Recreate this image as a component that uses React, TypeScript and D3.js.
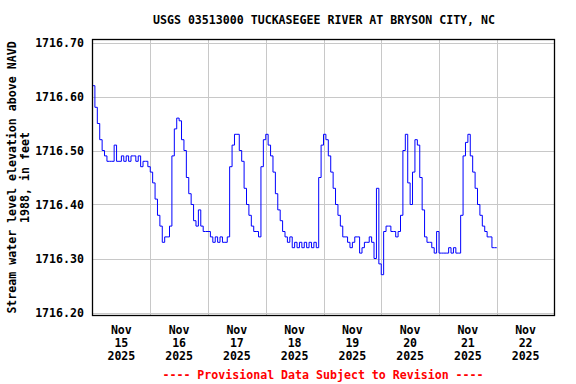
import React from "react";
import * as d3 from "d3";

const title = "USGS 03513000 TUCKASEGEE RIVER AT BRYSON CITY, NC";
const yAxisTitle = ["Stream water level elevation above NAVD", "1988, in feet"];
const footer = "---- Provisional Data Subject to Revision ----";
const startTime = new Date(2025, 10, 15, 0, 0);
const endTime = new Date(2025, 10, 23, 0, 0);
const yTicks = [1716.2, 1716.3, 1716.4, 1716.5, 1716.6, 1716.7];
const dayLabels = ["15", "16", "17", "18", "19", "20", "21", "22"];
const monthLabel = "Nov";
const yearLabel = "2025";

// Hourly gage height readings starting Nov 15 2025 00:00
const elevation = [
  1716.62, 1716.58, 1716.55, 1716.52, 1716.50, 1716.49, 1716.48, 1716.48, 1716.48, 1716.51,
  1716.48, 1716.48, 1716.49, 1716.48, 1716.49, 1716.48, 1716.49, 1716.49, 1716.48, 1716.49,
  1716.47, 1716.48, 1716.48, 1716.47, 1716.46, 1716.44, 1716.41, 1716.38, 1716.36, 1716.33,
  1716.34, 1716.34, 1716.36, 1716.49, 1716.54, 1716.56, 1716.555, 1716.52, 1716.50, 1716.45,
  1716.42, 1716.40, 1716.37, 1716.36, 1716.39, 1716.36, 1716.35, 1716.35, 1716.35, 1716.34,
  1716.33, 1716.34, 1716.33, 1716.34, 1716.33, 1716.33, 1716.34, 1716.47, 1716.51, 1716.53,
  1716.53, 1716.50, 1716.48, 1716.43, 1716.40, 1716.38, 1716.36, 1716.35, 1716.35, 1716.34,
  1716.47, 1716.52, 1716.53, 1716.51, 1716.49, 1716.46, 1716.42, 1716.39, 1716.37, 1716.35,
  1716.34, 1716.33, 1716.34, 1716.32, 1716.33, 1716.32, 1716.33, 1716.32, 1716.33, 1716.32,
  1716.33, 1716.32, 1716.33, 1716.32, 1716.45, 1716.51, 1716.53, 1716.52, 1716.49, 1716.46,
  1716.43, 1716.40, 1716.38, 1716.36, 1716.34, 1716.34, 1716.33, 1716.32, 1716.33, 1716.34,
  1716.34, 1716.31, 1716.32, 1716.33, 1716.33, 1716.34, 1716.33, 1716.30, 1716.43, 1716.29,
  1716.27, 1716.35, 1716.36, 1716.36, 1716.35, 1716.35, 1716.34, 1716.35, 1716.38, 1716.50,
  1716.53, 1716.44, 1716.40, 1716.46, 1716.52, 1716.51, 1716.45, 1716.39, 1716.34, 1716.33,
  1716.33, 1716.32, 1716.31, 1716.35, 1716.31, 1716.31, 1716.31, 1716.31, 1716.32, 1716.31,
  1716.32, 1716.31, 1716.31, 1716.38, 1716.49, 1716.515, 1716.53, 1716.49, 1716.46, 1716.43,
  1716.40, 1716.38, 1716.36, 1716.35, 1716.34, 1716.34, 1716.32, 1716.32, 1716.32,
];

const W = 576;
const H = 384;
const FONT = "'DejaVu Sans Mono', monospace";

export default function App() {
  const left = 92.5;
  const right = 554.5;
  const top = 39.5;
  const bottom = 315.5;

  const x = d3.scaleTime().domain([startTime, endTime]).range([left, right]);
  const y = d3.scaleLinear().domain([1716.2, 1716.7]).range([312.5, 42.5]);

  const points = elevation.map((v, i) => ({
    t: d3.timeHour.offset(startTime, i),
    v,
  }));
  const line = d3
    .line<{ t: Date; v: number }>()
    .x((d) => x(d.t))
    .y((d) => y(d.v))
    .curve(d3.curveStepAfter);

  const days = d3.timeDay.range(startTime, endTime);

  return (
    <svg
      width={W}
      height={H}
      style={{ position: "absolute", left: 0, top: 0, background: "#fff" }}
      fontFamily={FONT}
      fontWeight="bold"
      fontSize={11.6}
    >
      <rect x={0} y={0} width={W} height={H} fill="#fff" />
      {/* grid */}
      {yTicks.map((t) => (
        <line key={"gy" + t} x1={left} x2={right} y1={Math.round(y(t)) + 0.5} y2={Math.round(y(t)) + 0.5} stroke="#c8c8c8" strokeWidth={1} />
      ))}
      {days.slice(1).map((d, i) => (
        <line key={"gx" + i} x1={Math.round(x(d)) + 0.5} x2={Math.round(x(d)) + 0.5} y1={top} y2={bottom} stroke="#c8c8c8" strokeWidth={1} />
      ))}
      {/* data */}
      <path d={line(points) || ""} fill="none" stroke="#0000ff" strokeWidth={1} />
      {/* frame */}
      <rect x={left} y={top} width={right - left} height={bottom - top} fill="none" stroke="#000" strokeWidth={1.3} />
      {/* y tick labels */}
      {yTicks.map((t) => (
        <text key={"ty" + t} x={84} y={y(t) + 4} textAnchor="end" fill="#000">
          {t.toFixed(2)}
        </text>
      ))}
      {/* x labels */}
      {days.map((d, i) => {
        const cx = x(d3.timeHour.offset(d, 12));
        return (
          <text key={"tx" + i} textAnchor="middle" fill="#000">
            <tspan x={cx} y={334}>{monthLabel}</tspan>
            <tspan x={cx} y={347}>{dayLabels[i]}</tspan>
            <tspan x={cx} y={360}>{yearLabel}</tspan>
          </text>
        );
      })}
      {/* title */}
      <text x={(left + right) / 2 + 0.5} y={24} textAnchor="middle" fill="#000">
        {title}
      </text>
      {/* y axis title */}
      <text transform={`translate(16, ${(top + bottom) / 2}) rotate(-90)`} textAnchor="middle" fill="#000">
        {yAxisTitle[0]}
      </text>
      <text transform={`translate(29, ${(top + bottom) / 2}) rotate(-90)`} textAnchor="middle" fill="#000">
        {yAxisTitle[1]}
      </text>
      {/* footer */}
      <text x={323} y={379} textAnchor="middle" fill="#ff0000">
        {footer}
      </text>
    </svg>
  );
}
